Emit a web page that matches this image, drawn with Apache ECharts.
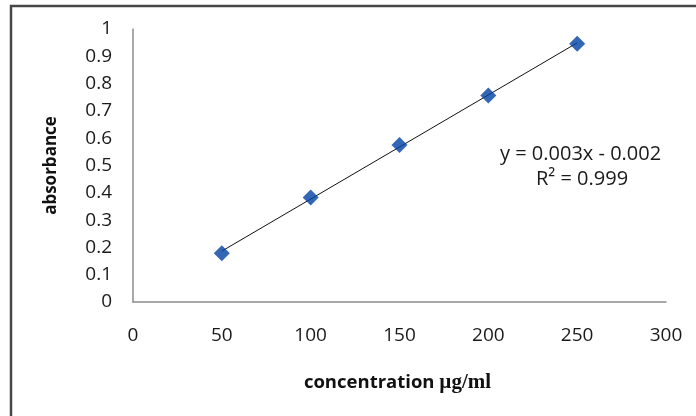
<!DOCTYPE html>
<html>
<head>
<meta charset="utf-8">
<script src="https://cdn.jsdelivr.net/npm/echarts@6/dist/echarts.min.js"></script>
<style>
html,body{margin:0;padding:0;background:#fff;}
#chart{width:696px;height:416px;}
</style>
</head>
<body>
<div id="chart"></div>
<script>
const concentration = [50, 100, 150, 200, 250];
const absorbance = [0.179, 0.383, 0.575, 0.756, 0.946];
const xTicks = [0, 50, 100, 150, 200, 250, 300];
const yTicks = [0, 0.1, 0.2, 0.3, 0.4, 0.5, 0.6, 0.7, 0.8, 0.9, 1];
const equationText = 'y = 0.003x - 0.002';
const r2Text = 'R² = 0.999';

// least-squares trendline from the data
const n = concentration.length;
const mx = concentration.reduce((a, b) => a + b, 0) / n;
const my = absorbance.reduce((a, b) => a + b, 0) / n;
let sxy = 0, sxx = 0;
for (let i = 0; i < n; i++) {
  sxy += (concentration[i] - mx) * (absorbance[i] - my);
  sxx += (concentration[i] - mx) * (concentration[i] - mx);
}
const slope = sxy / sxx;
const intercept = my - slope * mx;
const xMin = Math.min(...concentration), xMax = Math.max(...concentration);
const trend = [[xMin, intercept + slope * xMin], [xMax, intercept + slope * xMax]];

const FONT = 'Open Sans';
const chart = echarts.init(document.getElementById('chart'));
chart.setOption({
  animation: false,
  backgroundColor: '#fff',
  grid: { left: 133, right: 30, top: 29, bottom: 114, containLabel: false },
  xAxis: {
    type: 'value', min: 0, max: 300, interval: 50,
    axisLine: { show: true, lineStyle: { color: '#8c8c8c', width: 1.5 } },
    axisTick: { show: false },
    splitLine: { show: false },
    axisLabel: { color: '#1a1a1a', fontFamily: FONT, fontSize: 19, margin: 24 },
    name: 'concentration {mu|µg/ml}',
    nameLocation: 'middle', nameGap: 70,
    nameTextStyle: {
      color: '#111', fontFamily: FONT, fontWeight: 'bold', fontSize: 18.5,
      padding: [0, 0, 0, -4],
      rich: { mu: { fontFamily: 'Liberation Serif', fontWeight: 'bold', fontSize: 21, color: '#111' } }
    }
  },
  yAxis: {
    type: 'value', min: 0, max: 1, interval: 0.1,
    axisLine: { show: true, lineStyle: { color: '#8c8c8c', width: 1.5 } },
    axisTick: { show: false },
    splitLine: { show: false },
    axisLabel: {
      color: '#1a1a1a', fontFamily: FONT, fontSize: 19, margin: 21,
      formatter: v => String(Math.round(v * 10) / 10)
    },
    name: 'absorbance',
    nameLocation: 'middle', nameGap: 73, nameRotate: 90,
    nameTextStyle: { color: '#111', fontFamily: FONT, fontWeight: 'bold', fontSize: 17 }
  },
  graphic: [
    { type: 'rect', shape: { x: 11, y: 6, width: 700, height: 420 }, style: { fill: 'none', stroke: '#474747', lineWidth: 2.5 }, z: 100 },
    { type: 'text', left: 500, top: 144, style: { text: equationText, font: '20px "Open Sans"', fill: '#1a1a1a' }, z: 100 },
    { type: 'text', left: 536, top: 169, style: { text: r2Text, font: '20px "Open Sans"', fill: '#1a1a1a' }, z: 100 }
  ],
  series: [
    {
      type: 'line', data: trend, symbol: 'none',
      lineStyle: { color: '#111', width: 1 }, z: 2
    },
    {
      type: 'scatter', data: concentration.map((x, i) => [x, absorbance[i]]),
      symbol: 'diamond', symbolSize: [16, 16],
      itemStyle: { color: '#0040a3' }, z: 3
    }
  ]
});
</script>
</body>
</html>
